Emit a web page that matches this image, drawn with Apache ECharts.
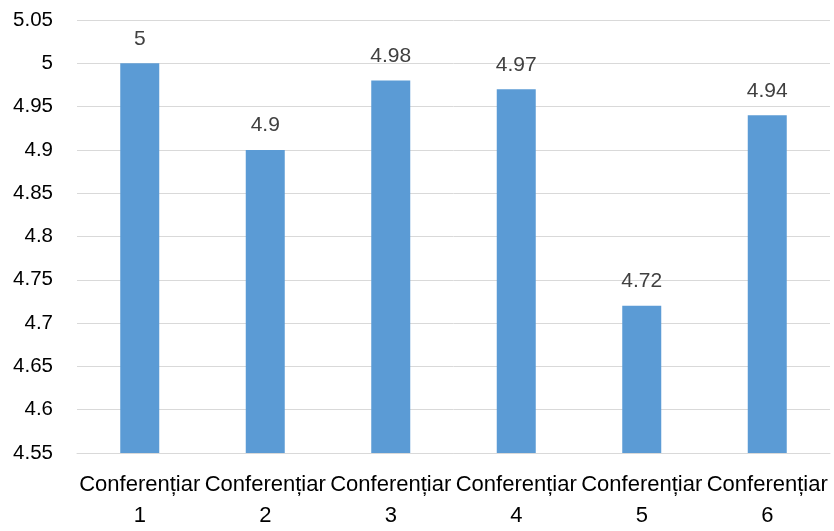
<!DOCTYPE html>
<html>
<head>
<meta charset="utf-8">
<script src="https://cdn.jsdelivr.net/npm/echarts@6/dist/echarts.min.js"></script>
<style>html,body{margin:0;padding:0;background:#fff}#c{width:834px;height:531px}</style>
</head>
<body>
<div id="c"></div>
<script>
const categories = ['Conferențiar\n1','Conferențiar\n2','Conferențiar\n3','Conferențiar\n4','Conferențiar\n5','Conferențiar\n6'];
const values = [5, 4.9, 4.98, 4.97, 4.72, 4.94];
const yMin = 4.55, yMax = 5.05, yStep = 0.05;

const chart = echarts.init(document.getElementById('c'));
chart.setOption({
  animation: false,
  grid: { left: 77, right: 4, top: 20, bottom: 78, containLabel: false },
  xAxis: {
    type: 'category',
    data: categories,
    axisLine: { show: true, lineStyle: { color: '#d9d9d9', width: 1 } },
    axisTick: { show: false },
    axisLabel: { color: '#000', fontFamily: 'Liberation Sans', fontSize: 22, lineHeight: 31, margin: 16, interval: 0 }
  },
  yAxis: {
    type: 'value',
    min: yMin, max: yMax, interval: yStep,
    axisLine: { show: false },
    axisTick: { show: false },
    splitLine: { lineStyle: { color: '#d9d9d9', width: 1 } },
    axisLabel: { color: '#000', fontFamily: 'Liberation Sans', fontSize: 20.5, margin: 24,
      formatter: v => String(parseFloat(v.toFixed(2))) }
  },
  series: [{
    type: 'bar',
    data: values,
    barWidth: 39,
    itemStyle: { color: '#5b9bd5' },
    label: { show: true, position: 'top', distance: 14, color: '#404040', fontFamily: 'Liberation Sans', fontSize: 21 }
  }]
});
</script>
</body>
</html>
